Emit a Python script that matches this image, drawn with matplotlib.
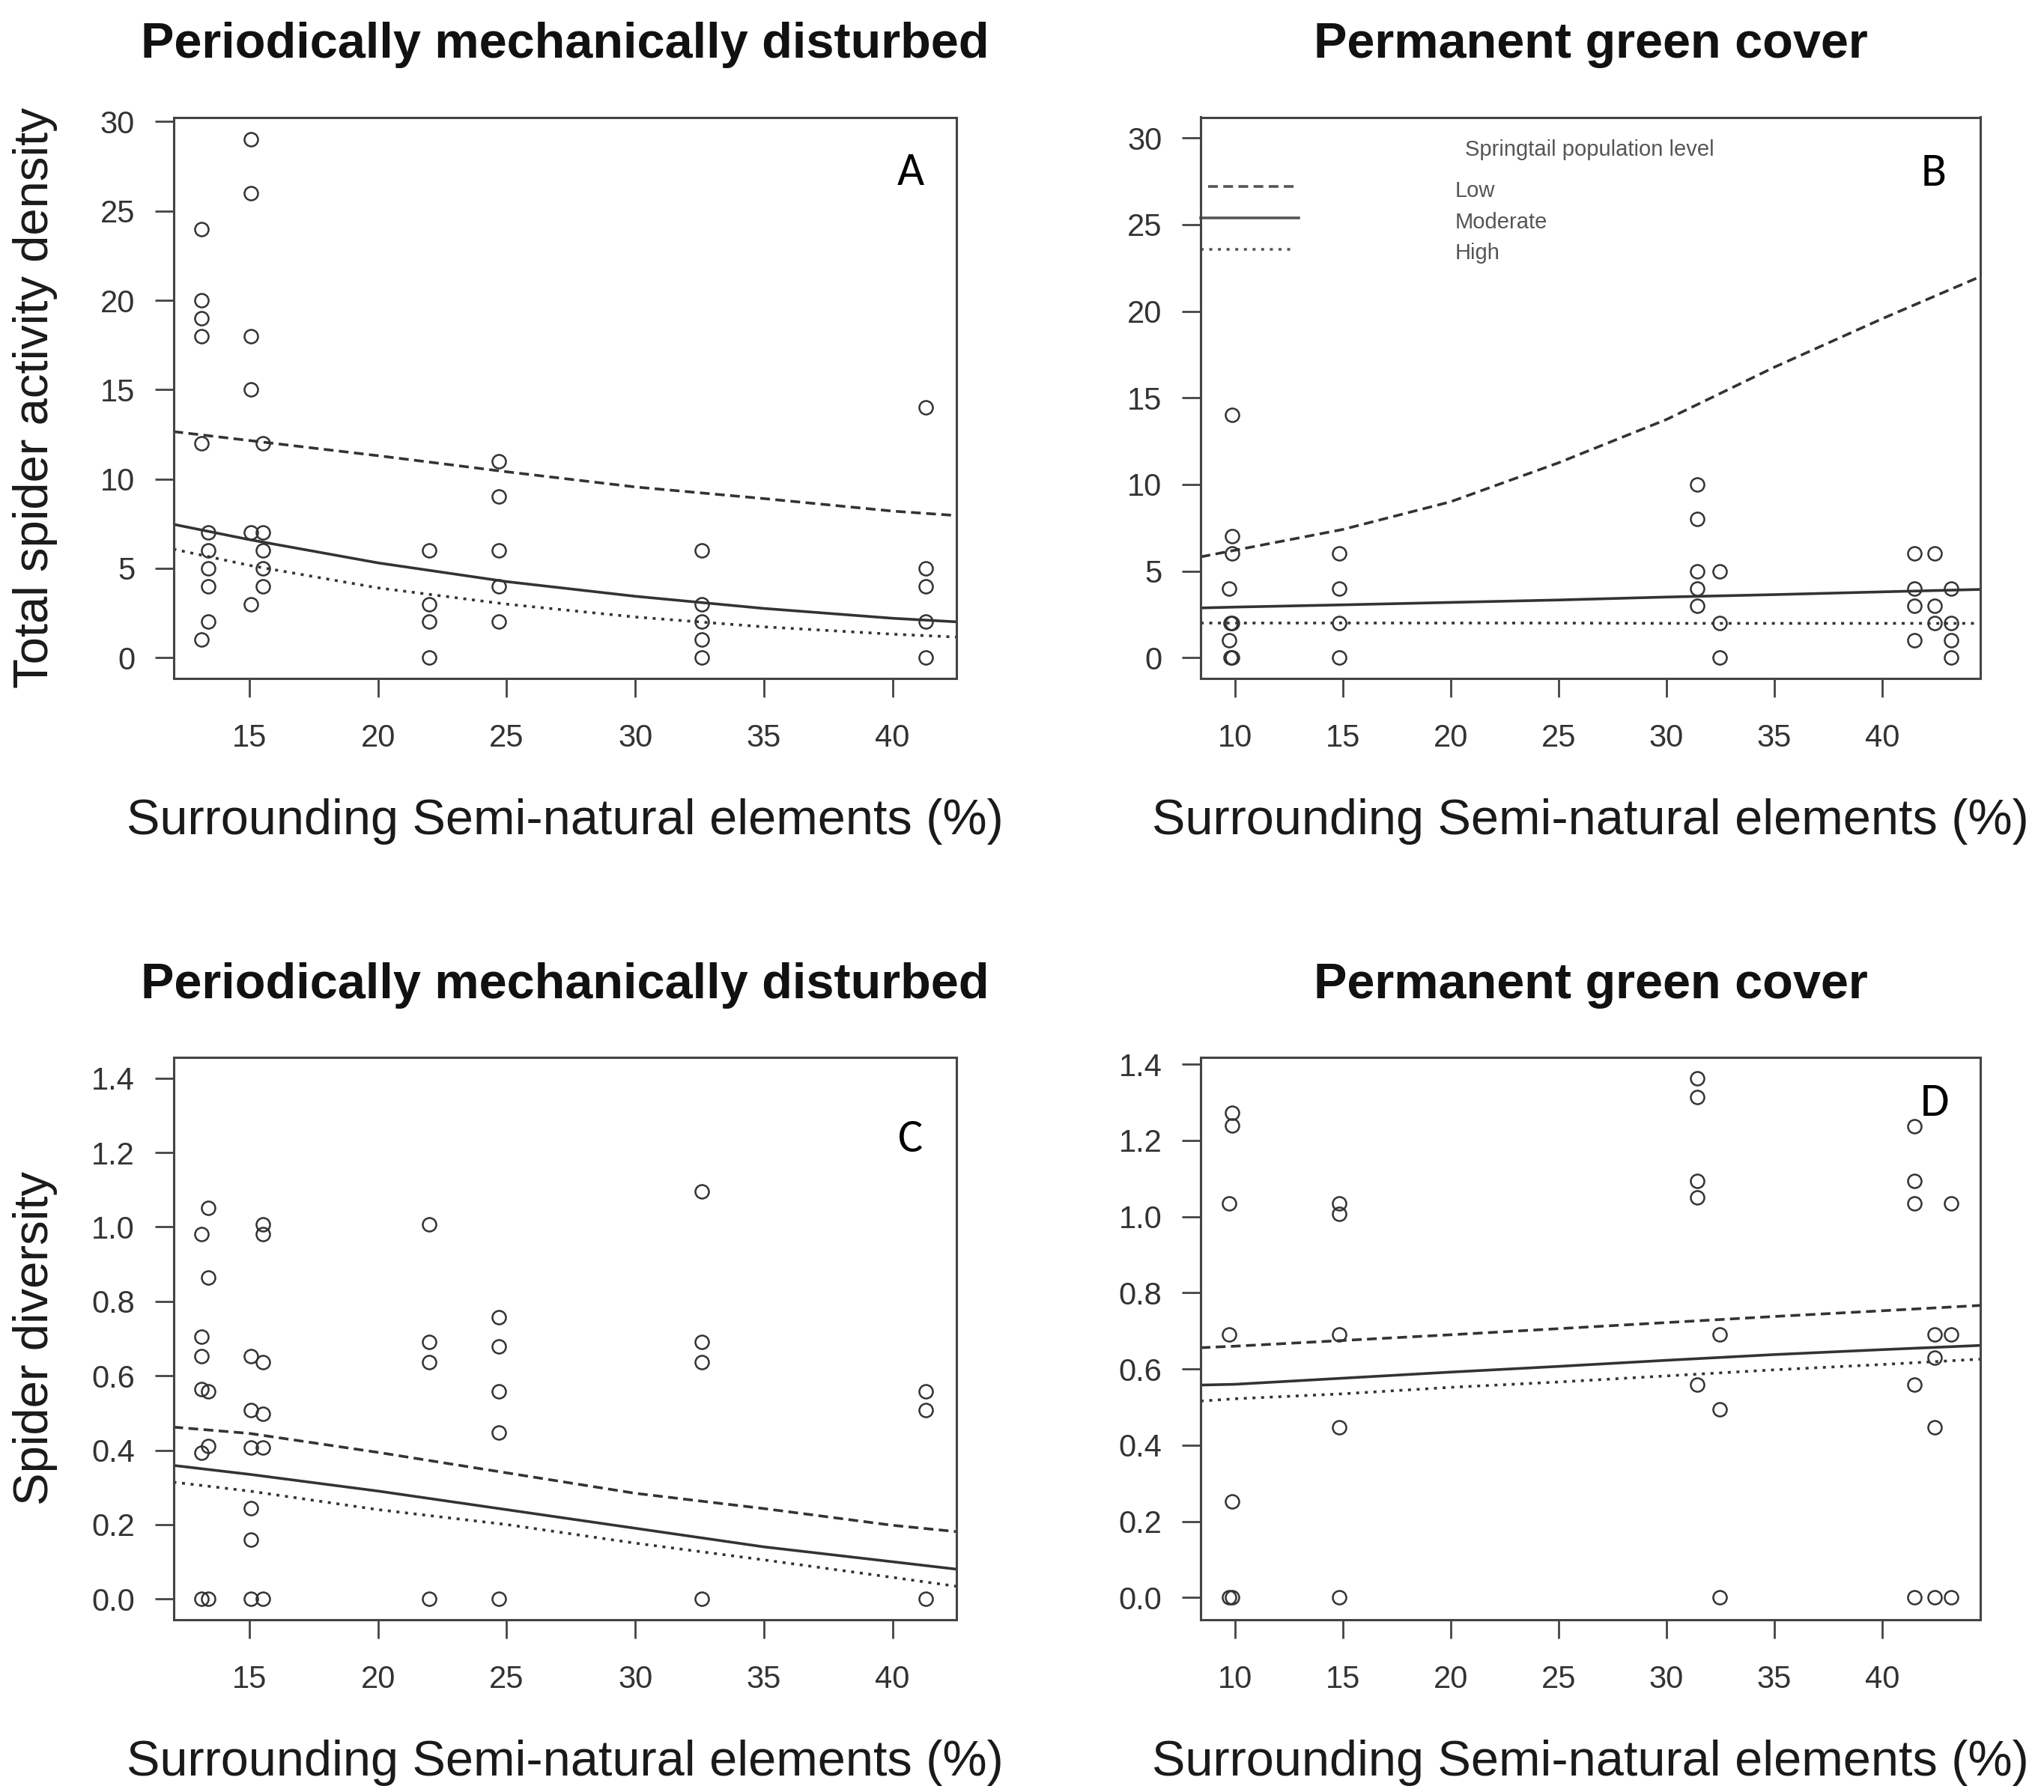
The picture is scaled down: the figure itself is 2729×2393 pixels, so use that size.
import matplotlib
matplotlib.use("Agg")
import matplotlib.pyplot as plt
from matplotlib import font_manager

# figure size in pixels (dpi 100)
W, H = 2729, 2393

# --- panel A: activity density, periodically mechanically disturbed ---
a_x = [13.12, 13.12, 13.12, 13.12, 13.12, 13.12,
       13.38, 13.38, 13.38, 13.38, 13.38,
       15.06, 15.06, 15.06, 15.06, 15.06, 15.06,
       15.53, 15.53, 15.53, 15.53, 15.53,
       22.0, 22.0, 22.0, 22.0,
       24.7, 24.7, 24.7, 24.7, 24.7,
       32.6, 32.6, 32.6, 32.6, 32.6,
       41.3, 41.3, 41.3, 41.3, 41.3]
a_y = [24, 20, 19, 18, 12, 1,
       7, 6, 5, 4, 2,
       29, 26, 18, 15, 7, 3,
       12, 7, 6, 5, 4,
       6, 3, 2, 0,
       11, 9, 6, 4, 2,
       6, 3, 2, 1, 0,
       14, 5, 4, 2, 0]
a_line_x = [12.04, 15, 20, 25, 30, 35, 40, 42.49]
a_low = [12.65, 12.15, 11.3, 10.4, 9.55, 8.9, 8.2, 7.95]
a_mod = [7.46, 6.6, 5.3, 4.25, 3.43, 2.75, 2.2, 2.0]
a_high = [6.07, 5.16, 3.9, 2.99, 2.27, 1.72, 1.31, 1.15]

# --- panel B: activity density, permanent green cover ---
b_x = [9.88, 9.88, 9.88, 9.73, 9.8, 9.88, 9.73, 9.8, 9.88,
       14.85, 14.85, 14.85, 14.85,
       31.44, 31.44, 31.44, 31.44, 31.44,
       32.46, 32.46, 32.46,
       41.5, 41.5, 41.5, 41.5,
       42.43, 42.43, 42.43,
       43.2, 43.2, 43.2, 43.2]
b_y = [14, 7, 6, 4, 2, 2, 1, 0, 0,
       6, 4, 2, 0,
       10, 8, 5, 4, 3,
       5, 2, 0,
       6, 4, 3, 1,
       6, 3, 2,
       4, 2, 1, 0]
b_line_x = [8.42, 10, 15, 20, 25, 30, 35, 40, 44.54]
b_low = [5.82, 6.2, 7.4, 9.0, 11.25, 13.75, 16.77, 19.57, 22.0]
b_mod = [2.87, 2.92, 3.05, 3.19, 3.33, 3.5, 3.64, 3.8, 3.94]
b_high = [2.0, 2.0, 2.0, 2.0, 2.0, 1.98, 1.98, 1.98, 1.98]

# --- panel C: diversity, periodically mechanically disturbed ---
c_x = [13.12, 13.12, 13.12, 13.12, 13.12, 13.12,
       13.38, 13.38, 13.38, 13.38, 13.38,
       15.06, 15.06, 15.06, 15.06, 15.06, 15.06,
       15.53, 15.53, 15.53, 15.53, 15.53, 15.53,
       22.0, 22.0, 22.0, 22.0,
       24.7, 24.7, 24.7, 24.7, 24.7,
       32.6, 32.6, 32.6, 32.6,
       41.3, 41.3, 41.3]
c_y = [0.98, 0.706, 0.653, 0.565, 0.392, 0.0,
       1.051, 0.864, 0.558, 0.411, 0.0,
       0.653, 0.508, 0.407, 0.243, 0.16, 0.0,
       1.008, 0.98, 0.636, 0.498, 0.407, 0.0,
       1.008, 0.691, 0.636, 0.0,
       0.757, 0.679, 0.558, 0.448, 0.0,
       1.096, 0.691, 0.636, 0.0,
       0.558, 0.508, 0.0]
c_line_x = [12.04, 15, 20, 25, 30, 35, 40, 42.49]
c_low = [0.462, 0.445, 0.394, 0.339, 0.284, 0.243, 0.198, 0.181]
c_mod = [0.359, 0.335, 0.290, 0.240, 0.19, 0.14, 0.10, 0.08]
c_high = [0.314, 0.29, 0.24, 0.20, 0.15, 0.105, 0.058, 0.034]

# --- panel D: diversity, permanent green cover ---
d_x = [9.88, 9.88, 9.88, 9.88,
       9.73, 9.73, 9.73,
       14.85, 14.85, 14.85, 14.85, 14.85,
       31.44, 31.44, 31.44, 31.44, 31.44,
       32.46, 32.46, 32.46,
       41.5, 41.5, 41.5, 41.5, 41.5,
       42.43, 42.43, 42.43, 42.43,
       43.2, 43.2, 43.2]
d_y = [1.272, 1.24, 0.253, 0.0,
       1.034, 0.69, 0.0,
       1.034, 1.008, 0.69, 0.447, 0.0,
       1.362, 1.313, 1.093, 1.051, 0.56,
       0.69, 0.494, 0.0,
       1.238, 1.093, 1.034, 0.56, 0.0,
       0.69, 0.63, 0.447, 0.0,
       1.034, 0.69, 0.0]
d_line_x = [8.42, 10, 15, 20, 25, 30, 35, 40, 44.54]
d_low = [0.656, 0.66, 0.675, 0.69, 0.706, 0.722, 0.738, 0.753, 0.767]
d_mod = [0.558, 0.56, 0.576, 0.592, 0.607, 0.623, 0.638, 0.651, 0.662]
d_high = [0.516, 0.522, 0.535, 0.552, 0.566, 0.582, 0.598, 0.612, 0.626]

title_left = "Periodically mechanically disturbed"
title_right = "Permanent green cover"
xlab = "Surrounding Semi-natural elements (%)"
legend_title = "Springtail population level"
legend_labels = ["Low", "Moderate", "High"]

# fonts
installed = {f.name for f in font_manager.fontManager.ttflist}
if "Liberation Sans Narrow" in installed:
    tick_font, tick_size = "Liberation Sans Narrow", 33
else:
    tick_font, tick_size = "Liberation Sans", 30
letter_font = "Carlito" if "Carlito" in installed else "Lato"
plt.rcParams["font.family"] = ["Liberation Sans", "DejaVu Sans"]

INK = "#333333"
BOX = "#444444"
LW = 2.6
dash_low = (0, (3.6, 2.0))
dash_high = (0, (1.1, 2.1))

fig = plt.figure(figsize=(W / 100, H / 100), dpi=100)
fig.patch.set_facecolor("white")


def rect(left, top, right, bottom):
    return [left / W, 1 - bottom / H, (right - left) / W, (bottom - top) / H]


def panel(r, px, py, lx, low, mod, high, xlim, ylim, xticks, yticks,
          yfmt, title, ylabel, letter, letter_pos):
    ax = fig.add_axes(r)
    ax.plot(px, py, linestyle="none", marker="o", markersize=13,
            markerfacecolor="none", markeredgecolor=INK, markeredgewidth=1.8)
    ax.plot(lx, low, color=INK, lw=LW, linestyle=dash_low)
    ax.plot(lx, mod, color=INK, lw=LW, linestyle="-")
    ax.plot(lx, high, color=INK, lw=LW, linestyle=dash_high)
    ax.set_xlim(*xlim)
    ax.set_ylim(*ylim)
    ax.set_xticks(xticks)
    ax.set_yticks(yticks)
    ax.set_yticklabels([yfmt.format(v) for v in yticks])
    for s in ax.spines.values():
        s.set_color(BOX)
        s.set_linewidth(2.2)
    ax.tick_params(axis="both", direction="out", length=18, width=2.0,
                   color=BOX, labelcolor="#333333", labelsize=tick_size)
    ax.tick_params(axis="x", pad=25)
    ax.tick_params(axis="y", pad=19)
    for t in ax.get_xticklabels() + ax.get_yticklabels():
        t.set_fontfamily(tick_font)
    ax.set_title(title, fontsize=48, fontweight="bold", pad=57, color="#111111")
    ax.set_xlabel(xlab, fontsize=48, color="#1a1a1a", va="baseline")
    ax.xaxis.set_label_coords(0.5, -0.2775)
    if ylabel:
        ax.set_ylabel(ylabel, fontsize=47, color="#1a1a1a", va="baseline")
        ax.yaxis.set_label_coords(-0.160, 0.5)
    ax.text(letter_pos[0], letter_pos[1], letter, transform=ax.transAxes,
            ha="center", va="center", fontsize=45, family=letter_font,
            color="black")
    return ax


ax_a = panel(rect(231.5, 156.5, 1277, 906), a_x, a_y, a_line_x,
             a_low, a_mod, a_high, (12.04, 42.49), (-1.17, 30.25),
             [15, 20, 25, 30, 35, 40], [0, 5, 10, 15, 20, 25, 30], "{:d}",
             title_left, "Total spider activity density", "A",
             ((1216 - 231.5) / 1045.5, 1 - (230 - 156.5) / 749.5))
ax_b = panel(rect(1603, 156.5, 2644, 906), b_x, b_y, b_line_x,
             b_low, b_mod, b_high, (8.42, 44.54), (-1.2, 31.2),
             [10, 15, 20, 25, 30, 35, 40], [0, 5, 10, 15, 20, 25, 30], "{:d}",
             title_right, None, "B",
             ((2582 - 1603) / 1041, 1 - (231 - 156.5) / 749.5))
ax_c = panel(rect(231.5, 1412, 1277, 2163), c_x, c_y, c_line_x,
             c_low, c_mod, c_high, (12.04, 42.49), (-0.056, 1.456),
             [15, 20, 25, 30, 35, 40],
             [0.0, 0.2, 0.4, 0.6, 0.8, 1.0, 1.2, 1.4], "{:.1f}",
             title_left, "Spider diversity", "C",
             ((1216 - 231.5) / 1045.5, 1 - (1521 - 1412) / 751))
ax_d = panel(rect(1603, 1412, 2644, 2163), d_x, d_y, d_line_x,
             d_low, d_mod, d_high, (8.42, 44.54), (-0.058, 1.418),
             [10, 15, 20, 25, 30, 35, 40],
             [0.0, 0.2, 0.4, 0.6, 0.8, 1.0, 1.2, 1.4], "{:.1f}",
             title_right, None, "D",
             ((2583 - 1603) / 1041, 1 - (1473 - 1412) / 751))

# legend inside panel B (lines at the left, labels in the middle)
leg_styles = [dash_low, "-", dash_high]
leg_line_x = [(0.0096, 0.126), (0.0, 0.126), (0.0, 0.122)]
leg_line_y = [0.876, 0.820, 0.765]
leg_text_y = [0.869, 0.813, 0.758]
ax_b.text(0.4986, 0.9426, legend_title, transform=ax_b.transAxes,
          ha="center", va="center", fontsize=21, color="#555555")
for st, (x0, x1), ly, ty, lab in zip(leg_styles, leg_line_x, leg_line_y,
                                     leg_text_y, legend_labels):
    ax_b.plot([x0, x1], [ly, ly], transform=ax_b.transAxes, color="#555555",
              lw=LW, linestyle=st, clip_on=False)
    ax_b.text(0.326, ty, lab, transform=ax_b.transAxes, ha="left",
              va="center", fontsize=21, color="#555555")

fig.savefig("out.png", dpi=100, facecolor="white")
